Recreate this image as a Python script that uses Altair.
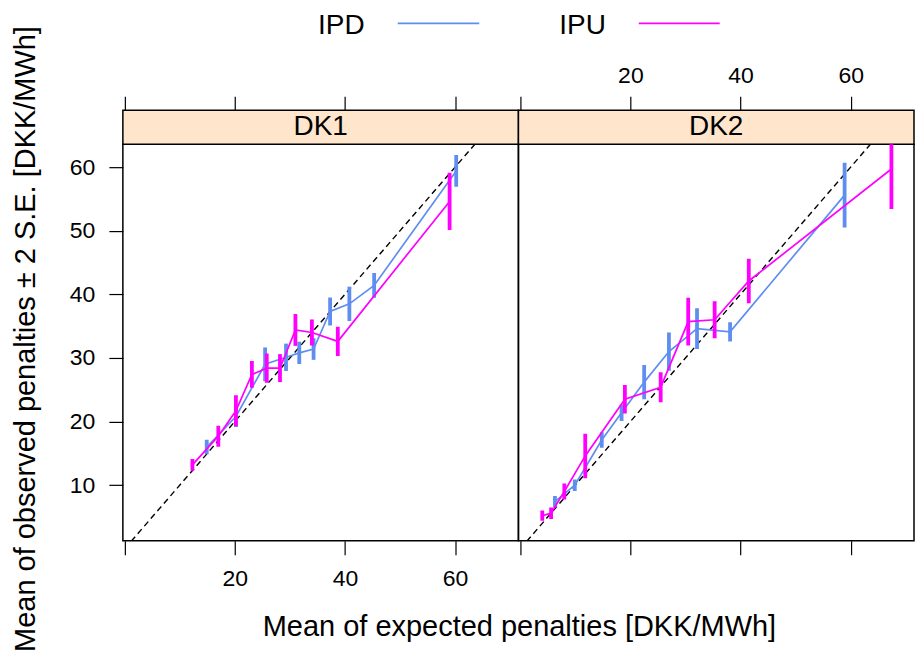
import altair as alt
import pandas as pd

SERIES = ["IPD", "IPU"]
PANELS = ["DK1", "DK2"]
COLORS = {"IPD": "#5f8ef0", "IPU": "#ff00ff"}
STRIP_FILL = "#ffe5cc"
FONT = "Liberation Sans"

X_TITLE = "Mean of expected penalties [DKK/MWh]"
Y_TITLE = "Mean of observed penalties \u00b1 2 S.E. [DKK/MWh]"
X_TICKS = [0, 20, 40, 60]
Y_TICKS = [10, 20, 30, 40, 50, 60]

# DK1 – IPD
dk1_ipd_x = [14.9, 20.2, 25.5, 29.3, 31.7, 34.3, 37.3, 40.8, 45.3, 60.2]
dk1_ipd_y = [16.0, 20.8, 29.0, 30.1, 30.8, 31.4, 37.3, 38.5, 41.4, 59.4]
dk1_ipd_h = [1.15, 1.65, 2.65, 2.15, 1.75, 1.7, 2.2, 2.7, 1.95, 2.5]
# DK1 – IPU
dk1_ipu_x = [12.3, 17.0, 20.2, 23.1, 25.8, 28.2, 31.0, 34.0, 38.7, 59.0]
dk1_ipu_y = [13.2, 17.7, 21.7, 27.4, 28.4, 28.4, 34.4, 34.0, 32.6, 54.6]
dk1_ipu_h = [0.92, 1.65, 2.45, 2.1, 2.3, 2.2, 2.5, 2.05, 2.3, 4.5]
# DK2 – IPD
dk2_ipd_x = [6.3, 9.9, 14.8, 18.4, 22.5, 27.0, 32.1, 38.1, 58.9]
dk2_ipd_y = [7.4, 10.0, 17.1, 21.4, 26.2, 31.0, 34.6, 34.1, 55.6]
dk2_ipd_h = [0.9, 0.9, 1.2, 1.3, 2.7, 3.0, 3.2, 1.5, 5.1]
# DK2 – IPU
dk2_ipu_x = [4.0, 5.6, 8.0, 11.8, 19.0, 25.5, 30.5, 35.3, 41.5, 67.4]
dk2_ipu_y = [5.2, 5.6, 9.0, 14.6, 23.5, 25.4, 35.7, 36.0, 42.1, 59.7]
dk2_ipu_h = [0.8, 0.9, 1.25, 3.5, 2.25, 2.35, 3.75, 2.9, 3.5, 6.3]

groups = [
    ("DK1", "IPD", dk1_ipd_x, dk1_ipd_y, dk1_ipd_h),
    ("DK1", "IPU", dk1_ipu_x, dk1_ipu_y, dk1_ipu_h),
    ("DK2", "IPD", dk2_ipd_x, dk2_ipd_y, dk2_ipd_h),
    ("DK2", "IPU", dk2_ipu_x, dk2_ipu_y, dk2_ipu_h),
]
rows = []
for p, s, xs, ys, hs in groups:
    for x, y, h in zip(xs, ys, hs):
        rows.append({"panel": p, "series": s, "x": x, "y": y, "lo": y - h, "hi": y + h})
df = pd.DataFrame(rows)

ref_df = pd.DataFrame({"x": [0, 75], "y": [0, 75]})

X_DOMAIN = [-0.33, 71.5]
Y_DOMAIN = [1.26, 63.6]
W, H = 396, 397
STRIP = 34


def xscale():
    return alt.Scale(domain=X_DOMAIN, nice=False, zero=False)


def yscale():
    return alt.Scale(domain=Y_DOMAIN, nice=False, zero=False)


common_axis = dict(
    tickSize=14, tickColor="black", tickWidth=1.2, domain=False, grid=False,
    labelFontSize=23, labelColor="black", labelFont=FONT,
    labelFlush=False, labelOverlap=False,
    titleFont=FONT, titleFontSize=29, titleFontWeight="normal", titleColor="black",
)


def make_panel(name, first):
    d = df[df.panel == name]
    bkw = dict(common_axis, orient="bottom", values=X_TICKS, labels=first, labelPadding=13,
               labelExpr="datum.value == 0 ? '' : datum.label")
    if first:
        bkw.update(title=X_TITLE, titleX=W + 0.5, titleY=94.7, titleAlign="center",
                   titleBaseline="alphabetic", titleAngle=0)
    else:
        bkw.update(title=None)
    bottom_axis = alt.Axis(**bkw)
    tkw = dict(common_axis, orient="top", values=X_TICKS, labels=not first, labelPadding=9,
               offset=STRIP, title=None, labelExpr="datum.value == 0 ? '' : datum.label")
    top_axis = alt.Axis(**tkw)
    if first:
        left_axis = alt.Axis(**dict(common_axis, orient="left", values=Y_TICKS, labelPadding=14,
                                    title=Y_TITLE, titleX=-88.5, titleY=H / 2 - 4,
                                    titleAngle=270, titleAlign="center",
                                    titleBaseline="alphabetic"))
    else:
        left_axis = None

    strip = alt.Chart(pd.DataFrame({"panel": [name]})).mark_rect(
        fill=STRIP_FILL, stroke="black", strokeWidth=1.5
    ).encode(x=alt.value(0), x2=alt.value(W), y=alt.value(-STRIP), y2=alt.value(0))
    strip_text = alt.Chart(pd.DataFrame({"panel": [name]})).mark_text(
        font=FONT, fontSize=28, baseline="middle", align="center", color="black"
    ).encode(text="panel:N", x=alt.value(W / 2), y=alt.value(-STRIP / 2))

    ref = alt.Chart(ref_df).mark_line(
        color="black", strokeDash=[6, 4], strokeWidth=1.4, clip=True
    ).encode(
        x=alt.X("x:Q", scale=xscale(), axis=bottom_axis),
        y=alt.Y("y:Q", scale=yscale(), axis=left_axis),
    )

    layers = [strip, strip_text, ref]
    for i, s in enumerate(SERIES):
        ds = d[d.series == s]
        line = alt.Chart(ds).mark_line(color=COLORS[s], strokeWidth=1.7, clip=True).encode(
            x=alt.X("x:Q", scale=xscale(), axis=top_axis if i == 0 else None),
            y=alt.Y("y:Q", scale=yscale(), axis=None),
        )
        bars = alt.Chart(ds).mark_rule(color=COLORS[s], strokeWidth=3.8, clip=True).encode(
            x=alt.X("x:Q", scale=xscale(), axis=None),
            y=alt.Y("lo:Q", scale=yscale(), axis=None),
            y2="hi:Q",
        )
        layers += [line, bars]

    if first:
        leg_text_x = [242, 483.5]
        leg_line_x = [(275.2, 356.8), (516.5, 597.5)]
        for s, tx, (l1, l2) in zip(SERIES, leg_text_x, leg_line_x):
            sd = pd.DataFrame({"series": [s]})
            layers.append(alt.Chart(sd).mark_text(
                font=FONT, fontSize=28, align="right", baseline="alphabetic", color="black"
            ).encode(text="series:N", x=alt.value(tx), y=alt.value(-110.4)))
            layers.append(alt.Chart(sd).mark_rule(color=COLORS[s], strokeWidth=1.7).encode(
                x=alt.value(l1), x2=alt.value(l2), y=alt.value(-121)))

    return alt.layer(*layers).resolve_axis(x="independent", y="independent").properties(
        width=W, height=H)


chart = alt.hconcat(make_panel("DK1", True), make_panel("DK2", False),
                    spacing=0, bounds="flush").properties(
    padding={"left": 10, "top": 10, "right": 0, "bottom": 0}
).configure(
    font=FONT,
    view=alt.ViewConfig(stroke="black", strokeWidth=1.5),
)

chart.save("out.html", embed_options={"renderer": "svg", "actions": False})
